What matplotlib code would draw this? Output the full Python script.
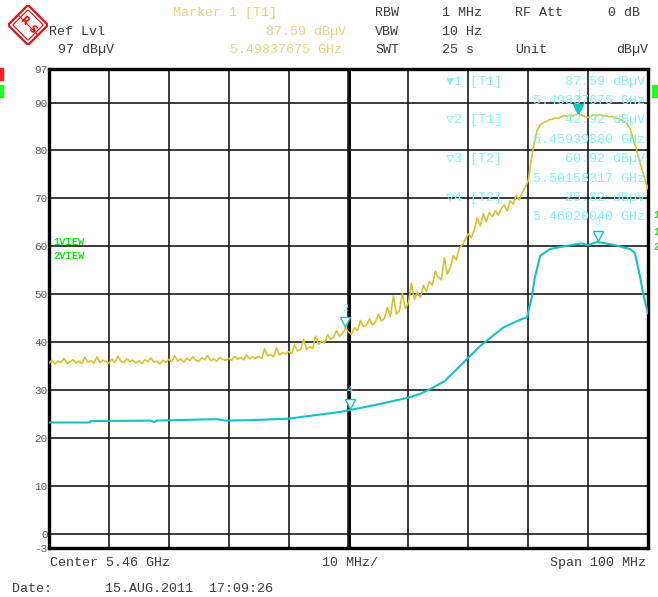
import numpy as np
import matplotlib
matplotlib.use("Agg")
import matplotlib.pyplot as plt
from matplotlib.patches import Polygon, Rectangle
from matplotlib import transforms

W, H = 658, 597
MONO = ["Liberation Mono", "DejaVu Sans Mono", "DejaVu Sans"]

# Trace 1 (yellow, T1): one sweep point every 0.5 MHz from 5.41 to 5.51 GHz
trace1_db = [
    35.6, 36.2, 35.4, 36.0, 35.7, 36.6, 35.5, 35.9, 36.3, 35.6,
    36.0, 35.5, 36.8, 35.8, 36.1, 35.6, 36.9, 35.7, 36.2, 35.9,
    35.6, 36.4, 35.8, 37.0, 36.0, 35.7, 36.5, 35.9, 36.2, 35.6,
    36.1, 35.5, 36.3, 35.9, 36.7, 35.8, 36.0, 35.4, 36.2, 35.7,
    36.4, 35.9, 37.1, 36.0, 36.5, 35.8, 36.6, 36.1, 36.9, 36.2,
    36.0, 36.7, 36.3, 37.2, 36.1, 36.5, 36.0, 36.8, 36.4, 36.2,
    36.6, 36.2, 37.0, 36.4, 36.8, 36.3, 37.3, 36.5, 36.9, 36.6,
    37.0, 36.6, 38.6, 37.1, 37.4, 36.9, 38.8, 37.3, 37.8, 37.5,
    38.0, 37.6, 39.4, 38.1, 38.5, 40.6, 38.4, 39.0, 38.6, 41.2,
    39.5, 40.2, 39.8, 41.5, 40.6, 41.0, 42.4, 41.2, 41.8, 42.9,
    42.1, 41.6, 43.0, 42.4, 44.5, 43.2, 43.6, 44.8, 43.5, 44.2,
    45.8, 44.4, 45.0, 47.2, 45.3, 49.6, 45.8, 46.5, 50.2, 47.0,
    48.2, 52.3, 48.9, 50.4, 49.3, 51.8, 50.6, 52.6, 51.9, 54.8,
    53.5, 53.0, 57.6, 54.2, 55.6, 58.0, 57.2, 59.6, 60.3, 61.4,
    62.6, 61.8, 63.5, 65.9, 64.2, 66.8, 65.1, 67.0, 66.2, 67.4,
    66.5, 67.8, 68.6, 67.4, 69.5, 68.8, 70.6, 69.7, 71.2, 72.3,
    73.6, 78.0, 81.6, 84.2, 85.3, 85.8, 86.0, 86.4, 86.5, 86.8,
    86.7, 87.0, 87.3, 87.1, 87.4, 87.2, 87.5, 87.6, 87.3, 87.0,
    86.9, 87.2, 87.4, 87.3, 87.5, 87.2, 87.3, 87.0, 87.1, 86.8,
    86.7, 86.4, 86.0, 85.6, 84.6, 82.4, 80.5, 78.2, 76.0, 74.0,
    72.0,
]
trace1_ghz = np.linspace(5.41, 5.51, len(trace1_db))

# Trace 2 (cyan, T2): breakpoints
trace2_ghz = [5.4100, 5.4168, 5.4170, 5.4270, 5.4275, 5.4280, 5.4380, 5.4395,
              5.4440, 5.4500, 5.4536, 5.4586, 5.4602, 5.4650, 5.4700, 5.4720,
              5.4740, 5.4761, 5.4790, 5.4820, 5.4840, 5.4858, 5.4880, 5.4898,
              5.4906, 5.4911, 5.4920, 5.4936, 5.4965, 5.4990, 5.5000, 5.5015,
              5.5042, 5.5070, 5.5078, 5.5087, 5.5092, 5.5100]
trace2_db = [23.2, 23.2, 23.5, 23.6, 23.3, 23.6, 23.9, 23.6,
             23.7, 24.0, 24.6, 25.4, 25.8, 27.0, 28.4, 29.2,
             30.4, 31.9, 35.5, 39.2, 41.2, 43.0, 44.3, 45.2,
             49.3, 53.4, 58.0, 59.4, 60.1, 60.6, 60.2, 60.9,
             60.3, 59.4, 58.6, 53.5, 50.0, 46.0]

marker_names = ["1", "2", "3", "4"]
marker_traces = ["T1", "T1", "T2", "T2"]
marker_ghz = [5.49837675, 5.45939880, 5.50158317, 5.46020040]
marker_db = [87.59, 42.92, 60.92, 25.82]

ytick_values = [97, 90, 80, 70, 60, 50, 40, 30, 20, 10, 0, -3]

YELLOW = "#d6c232"
YELLOW_TXT = "#e6d27e"
CYAN = "#14c2c6"
CYAN_TXT = "#86f4f4"
LABEL = "#3a3a3a"
GREEN = "#22e022"
FS = 9.6


def fx(x):
    return x / W


def fy(y):
    return 1 - y / H


fig = plt.figure(figsize=(W / 100, H / 100), dpi=100)
fig.patch.set_facecolor("white")

ax = fig.add_axes([fx(49), fy(548), (648 - 49) / W, (548 - 69) / H])
ax.set_xlim(5.41, 5.51)
ax.set_ylim(-3, 97)

# graticule
ax.set_xticks(np.arange(5.42, 5.505, 0.01))
ax.set_yticks(ytick_values)
ax.set_yticklabels([str(v) for v in ytick_values], family=MONO, fontsize=8, color="#5a5a5a")
ax.tick_params(axis="x", length=0, labelbottom=False)
ax.tick_params(axis="y", length=0, pad=1)
ax.grid(True, color="#1a1a1a", linewidth=1.2)
ax.axvline(5.46, color="black", linewidth=2.2, zorder=1)
for s in ax.spines.values():
    s.set_linewidth(2.4)
    s.set_color("black")

# traces
ax.plot(trace1_ghz, trace1_db, color=YELLOW, linewidth=1.2, zorder=3)
ax.plot(trace2_ghz, trace2_db, color=CYAN, linewidth=1.5, zorder=3)

# markers: triangle sitting on the trace, number above
for name, f, v in zip(marker_names, marker_ghz, marker_db):
    filled = name == "1"
    tri = transforms.offset_copy(ax.transData, fig=fig, y=4, units="points")
    ax.plot([f], [v], marker="v", markersize=7, transform=tri,
            markerfacecolor=CYAN if filled else "white",
            markeredgecolor=CYAN, markeredgewidth=1.0, zorder=5, clip_on=False)
    ax.annotate(name, (f, v), xytext=(0, 11), textcoords="offset points",
                ha="center", va="bottom", color=CYAN_TXT, fontsize=7, family=MONO)

# marker table inside the graticule
row_y = 82
for name, tr, f, v in zip(marker_names, marker_traces, marker_ghz, marker_db):
    sym = "\u25bc" if name == "1" else "\u25bd"
    fig.text(fx(446), fy(row_y), f"{sym}{name} [{tr}]", family=MONO, fontsize=FS,
             color=CYAN_TXT, va="center", ha="left")
    fig.text(fx(645), fy(row_y), f"{v:.2f} dB\u00b5V", family=MONO, fontsize=FS,
             color=CYAN_TXT, va="center", ha="right")
    fig.text(fx(645), fy(row_y + 19.5), f"{f:.8f} GHz", family=MONO, fontsize=FS,
             color=CYAN_TXT, va="center", ha="right")
    row_y += 38.5

ax.text(5.4108, 60.9, "1VIEW", family=MONO, fontsize=7.5, fontweight="bold",
        color=GREEN, va="center")
ax.text(5.4108, 58.0, "2VIEW", family=MONO, fontsize=7.5, fontweight="bold",
        color=GREEN, va="center")

# header
hdr = dict(family=MONO, fontsize=FS, va="center")
fig.text(fx(173), fy(13), "Marker 1 [T1]", color=YELLOW_TXT, ha="left", **hdr)
fig.text(fx(346), fy(32), "87.59 dB\u00b5V", color=YELLOW_TXT, ha="right", **hdr)
fig.text(fx(342), fy(50), "5.49837675 GHz", color=YELLOW_TXT, ha="right", **hdr)
fig.text(fx(49), fy(32), "Ref Lvl", color=LABEL, ha="left", **hdr)
fig.text(fx(58), fy(50), "97 dB\u00b5V", color=LABEL, ha="left", **hdr)
fig.text(fx(375), fy(13), "RBW", color=LABEL, ha="left", **hdr)
fig.text(fx(375), fy(32), "VBW", color=LABEL, ha="left", **hdr)
fig.text(fx(375), fy(50), "SWT", color=LABEL, ha="left", **hdr)
fig.text(fx(442), fy(13), "1 MHz", color=LABEL, ha="left", **hdr)
fig.text(fx(442), fy(32), "10 Hz", color=LABEL, ha="left", **hdr)
fig.text(fx(442), fy(50), "25 s", color=LABEL, ha="left", **hdr)
fig.text(fx(515), fy(13), "RF Att", color=LABEL, ha="left", **hdr)
fig.text(fx(515), fy(50), "Unit", color=LABEL, ha="left", **hdr)
fig.text(fx(640), fy(13), "0 dB", color=LABEL, ha="right", **hdr)
fig.text(fx(648), fy(50), "dB\u00b5V", color=LABEL, ha="right", **hdr)

# footer
fig.text(fx(50), fy(563), "Center 5.46 GHz", color=LABEL, ha="left", **hdr)
fig.text(fx(322), fy(563), "10 MHz/", color=LABEL, ha="left", **hdr)
fig.text(fx(646), fy(563), "Span 100 MHz", color=LABEL, ha="right", **hdr)
fig.text(fx(12), fy(589), "Date:", color=LABEL, ha="left", **hdr)
fig.text(fx(105), fy(589), "15.AUG.2011  17:09:26", color=LABEL, ha="left", **hdr)

# side status bars
fig.patches.append(Rectangle((0, fy(80)), fx(3), 12 / H, transform=fig.transFigure,
                             color="#ff2020", figure=fig))
fig.patches.append(Rectangle((0, fy(97)), fx(3), 12 / H, transform=fig.transFigure,
                             color="#20ff20", figure=fig))
fig.patches.append(Rectangle((fx(652), fy(97)), fx(6), 12 / H, transform=fig.transFigure,
                             color="#20ff20", figure=fig))
for lbl, yy in zip(["1", "1", "2"], [215, 232, 247]):
    fig.text(fx(653), fy(yy), lbl, color=GREEN, fontsize=7, family=MONO,
             fontweight="bold", va="center", ha="left")

# R&S logo
lg = fig.add_axes([fx(8), fy(45), 40 / W, 40 / H])
lg.set_xlim(0, 1)
lg.set_ylim(0, 1)
lg.axis("off")
lg.add_patch(Polygon([(0.5, 0.0), (1.0, 0.5), (0.5, 1.0), (0.0, 0.5)],
                     closed=True, facecolor="white", edgecolor="#e01010", linewidth=1.6))
lg.add_patch(Polygon([(0.5, 0.12), (0.88, 0.5), (0.5, 0.88), (0.12, 0.5)],
                     closed=True, facecolor="none", edgecolor="#e01010", linewidth=0.8))
lg.plot([0.25, 0.75], [0.75, 0.25], color="#e01010", linewidth=0.8)
lg.text(0.40, 0.62, "R", color="#e01010", fontsize=7, fontweight="bold",
        ha="center", va="center", rotation=-45)
lg.text(0.60, 0.38, "S", color="#e01010", fontsize=7, fontweight="bold",
        ha="center", va="center", rotation=-45)

fig.savefig("out.png", dpi=100)
